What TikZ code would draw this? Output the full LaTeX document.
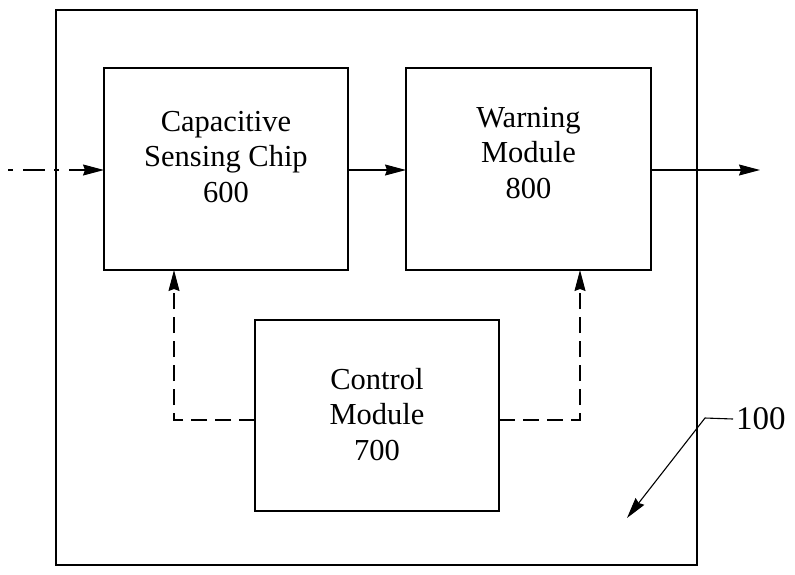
\documentclass[tikz,border=0pt]{standalone}
\usepackage{fontspec}
\setmainfont{Liberation Serif}
\usetikzlibrary{arrows.meta, calc, positioning}

\begin{document}
\begin{tikzpicture}[x=1pt, y=-1pt,
  every node/.style={outer sep=0pt},
  blockbox/.style={draw, line width=1.8pt, rectangle, inner sep=0pt},
  blocktext/.style={font=\fontsize{30.5}{35.5}\selectfont, align=center, inner sep=0pt},
  sigarrow/.style={line width=1.1pt, -{Stealth[length=21pt, width=11pt, inset=2pt]}},
  ctrlarrow/.style={sigarrow, dash pattern=on 16pt off 8pt}
]

\useasboundingbox (0,0) rectangle (795,574);

% Outer device frame
\draw[line width=1.4pt] (56,10) rectangle (697,565);

% Blocks
\node[blockbox, minimum width=244pt, minimum height=202pt] (chip) at (226,169) {};
\node[blockbox, minimum width=245pt, minimum height=202pt] (warn) at (528.5,169) {};
\node[blockbox, minimum width=244pt, minimum height=191pt] (ctrl) at (377,415.5) {};

% Block labels
\node[blocktext] (chiptxt) at ([yshift=12pt]chip.center) {Capacitive\\Sensing Chip\\600};
\node[blocktext] (warntxt) at ([yshift=16pt]warn.center) {Warning\\Module\\800};
\node[blocktext] (ctrltxt) at ([yshift=1pt]ctrl.center) {Control\\Module\\700};

% Signal path
\coordinate (sigin) at (8,170);
\coordinate (sigout) at (760,170);
\draw[sigarrow, dash pattern=on 5pt off 10pt on 22pt off 9pt] (sigin) -- (chip.west |- sigin);
\draw[sigarrow] (chip.east |- sigin) -- (warn.west |- sigin);
\draw[sigarrow] (warn.east |- sigin) -- (sigout);

% Control lines
\coordinate (ctrlL) at ($(ctrl.west)+(0,4.5)$);
\coordinate (ctrlR) at ($(ctrl.east)+(0,4.5)$);
\draw[ctrlarrow] (ctrlL) -| ([xshift=-52pt]chip.south);
\draw[ctrlarrow] (ctrlR) -| ([xshift=51.5pt]warn.south);

% Reference numeral
\node[font=\fontsize{33}{36}\selectfont, anchor=west, inner sep=0pt] (refnum) at (736,419) {100};
\coordinate (refbend) at (705,418);
\coordinate (reftip) at (627,518);
\draw[line width=1.1pt, -{Stealth[length=21pt, width=11pt, inset=2pt]}]
  ([xshift=-3pt]refnum.west) -- (refbend) -- (reftip);

\end{tikzpicture}
\end{document}
